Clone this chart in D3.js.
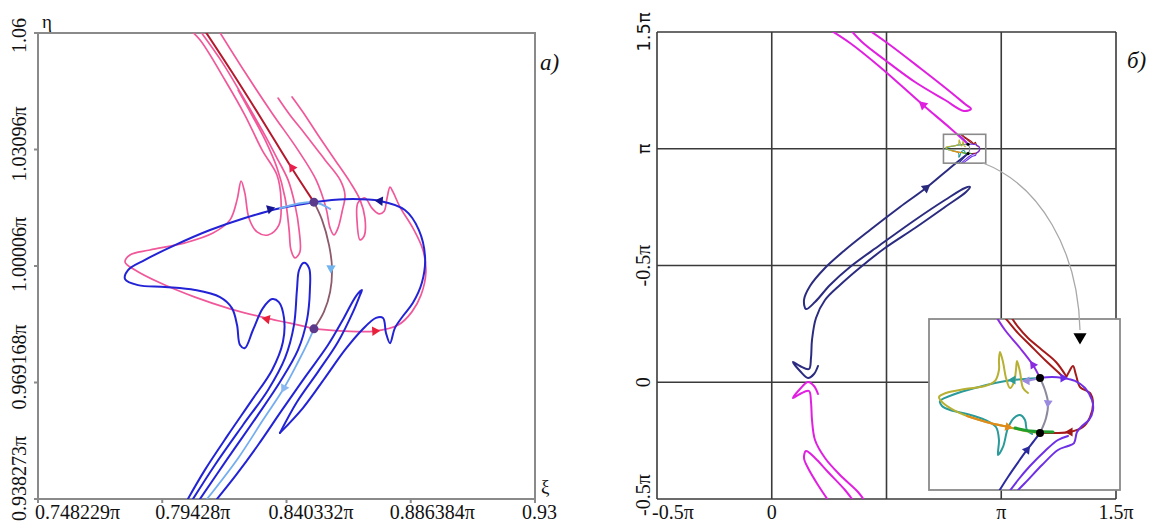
<!DOCTYPE html>
<html><head><meta charset="utf-8">
<script src="https://cdn.jsdelivr.net/npm/d3@7"></script>
<style>
body{margin:0;background:#fff}
svg{display:block}
text{font-family:"Liberation Serif","Times New Roman",serif;fill:#111}
</style>
</head><body>
<svg id="c" width="1149" height="526"></svg>
<script>
// ---------------- DATA (all in units of π) ----------------
// Panel a) axes
const leftXTicks = [0.748229, 0.79428, 0.840332, 0.886384, 0.932433];
const leftXTickLabels = ["0.748229π", "0.79428π", "0.840332π", "0.886384π", "0.93"];
const leftYTicks = [0.938273, 0.969168, 1.00006, 1.03096, 1.06186];
const leftYTickLabels = ["0.938273π", "0.969168π", "1.00006π", "1.03096π", "1.06"];

// Panel a) curves  [ξ/π, η/π]
const leftBlue1 = [[0.8038,0.9383],[0.8101,0.9460],[0.8186,0.9552],[0.8275,0.9645],[0.8350,0.9725],[0.8390,0.9799],[0.8394,0.9863],[0.8375,0.9905],[0.8350,0.9913],[0.8316,0.9889],[0.8279,0.9831],[0.8249,0.9783],[0.8231,0.9791],[0.8220,0.9844],[0.8201,0.9889],[0.8157,0.9918],[0.8064,0.9937],[0.7953,0.9945],[0.7853,0.9950],[0.7805,0.9966],[0.7816,0.9990],[0.7879,1.0017],[0.7990,1.0056],[0.8120,1.0096],[0.8249,1.0128],[0.8379,1.0154],[0.8505,1.0170]];
const leftBlue2 = [[0.8505,1.0170],[0.8620,1.0178],[0.8750,1.0173],[0.8842,1.0149],[0.8894,1.0096],[0.8917,1.0022],[0.8905,0.9956],[0.8872,0.9903],[0.8835,0.9868],[0.8805,0.9836],[0.8787,0.9796],[0.8772,0.9823],[0.8761,0.9863],[0.8735,0.9863],[0.8683,0.9831],[0.8620,0.9778],[0.8546,0.9704],[0.8464,0.9624],[0.8379,0.9558]];
const leftBlue3 = [[0.8379,0.9558],[0.8442,0.9640],[0.8520,0.9720],[0.8594,0.9799],[0.8650,0.9879],[0.8676,0.9924],[0.8683,0.9937],[0.8661,0.9921],[0.8616,0.9863],[0.8557,0.9791],[0.8472,0.9706],[0.8387,0.9619],[0.8298,0.9526],[0.8216,0.9446],[0.8146,0.9383]];
const leftBlue4 = [[0.8057,0.9383],[0.8138,0.9473],[0.8242,0.9579],[0.8335,0.9672],[0.8398,0.9757],[0.8431,0.9844],[0.8442,0.9937],[0.8450,0.9990],[0.8468,1.0009],[0.8487,0.9995],[0.8490,0.9937],[0.8479,0.9857],[0.8446,0.9778],[0.8379,0.9693],[0.8290,0.9598],[0.8186,0.9491],[0.8083,0.9383]];
const leftLightBlue = [[0.8505,0.9834],[0.8483,0.9799],[0.8446,0.9746],[0.8394,0.9677],[0.8316,0.9592],[0.8224,0.9491],[0.8109,0.9383]];
const leftLightBlueTop = [[0.8379,1.0154],[0.8505,1.0170],[0.8565,1.0152]];
const leftPink1 = [[0.8505,0.9834],[0.8416,0.9849],[0.8324,0.9863],[0.8194,0.9887],[0.8064,0.9918],[0.7934,0.9956],[0.7842,0.9990],[0.7805,1.0011],[0.7823,1.0030],[0.7897,1.0043],[0.8027,1.0062],[0.8131,1.0088],[0.8194,1.0123],[0.8220,1.0176],[0.8235,1.0226],[0.8249,1.0194],[0.8264,1.0128],[0.8294,1.0091],[0.8335,1.0083],[0.8375,1.0109],[0.8383,1.0176],[0.8368,1.0242],[0.8313,1.0308],[0.8249,1.0401],[0.8175,1.0494],[0.8083,1.0600],[0.8038,1.0632]];
const leftPink2 = [[0.8224,1.0467],[0.8275,1.0401],[0.8324,1.0335],[0.8368,1.0261],[0.8398,1.0181],[0.8413,1.0096],[0.8420,1.0043],[0.8435,1.0022],[0.8453,1.0038],[0.8450,1.0096],[0.8435,1.0162],[0.8409,1.0229],[0.8368,1.0287],[0.8313,1.0361],[0.8242,1.0449],[0.8164,1.0542],[0.8075,1.0632]];
const leftPink3 = [[0.8146,1.0632],[0.8249,1.0515],[0.8350,1.0406],[0.8446,1.0308],[0.8513,1.0229],[0.8550,1.0154],[0.8565,1.0101],[0.8579,1.0083],[0.8594,1.0101],[0.8609,1.0144],[0.8620,1.0189],[0.8602,1.0229],[0.8546,1.0282],[0.8472,1.0351],[0.8416,1.0401],[0.8372,1.0446]];
const leftPinkRight = [[0.8505,0.9834],[0.8620,0.9828],[0.8731,0.9828],[0.8817,0.9844],[0.8868,0.9879],[0.8902,0.9924],[0.8920,0.9985],[0.8909,1.0043],[0.8872,1.0101],[0.8824,1.0157],[0.8798,1.0197],[0.8787,1.0210],[0.8776,1.0181],[0.8765,1.0146],[0.8746,1.0139],[0.8720,1.0154],[0.8694,1.0181],[0.8668,1.0168],[0.8665,1.0117],[0.8676,1.0070],[0.8691,1.0080],[0.8694,1.0128],[0.8676,1.0176],[0.8639,1.0223],[0.8583,1.0282],[0.8520,1.0348],[0.8464,1.0409],[0.8424,1.0449]];
const leftRed = [[0.8505,1.0170],[0.8416,1.0268],[0.8313,1.0388],[0.8201,1.0515],[0.8094,1.0632]];
const leftBrown = [[0.8505,1.0170],[0.8535,1.0123],[0.8561,1.0056],[0.8572,0.9995],[0.8565,0.9932],[0.8542,0.9879],[0.8505,0.9834]];
const leftSaddles = [[0.8505,1.0170],[0.8505,0.9834]];
// arrows: [ξ, η, direction°, colour]
const leftArrows = [[0.8342,1.0152,-16,"#15158f"],[0.8750,1.0173,185,"#15158f"],[0.8424,1.0261,237,"#e8204e"],[0.8331,0.9860,191,"#e8203a"],[0.8731,0.9828,-3,"#e8203a"],[0.8568,0.9995,92,"#70b4f0"],[0.8394,0.9677,118,"#8ab8f0"]];

// Panel б) axes
const rightXTicks = [-0.5, 0, 0.5, 1, 1.5];
const rightXTickLabels = ["-0.5π", "0", "", "π", "1.5π"];
const rightYTicks = [-0.5, 0, 0.5, 1, 1.5];
const rightYTickLabels = ["-0.5π", "0", "-0.5π", "π", "1.5π"];

// Panel б) curves
const rightMagenta1 = [[0.2407,1.5171],[0.3410,1.4529],[0.4717,1.3501],[0.6590,1.1874],[0.7767,1.0889],[0.8553,1.0192]];
const rightMagentaTongue = [[0.4107,1.5171],[0.5152,1.4443],[0.6460,1.3458],[0.7680,1.2516],[0.8420,1.1917],[0.8682,1.1703],[0.8377,1.1617],[0.7549,1.2088],[0.6242,1.2859],[0.4935,1.3801],[0.3932,1.4572],[0.3366,1.5171]];
const rightNavy = [[0.8553,0.9795],[0.7767,0.9176],[0.6721,0.8319],[0.5588,0.7505],[0.4281,0.6520],[0.3192,0.5664],[0.2320,0.4893],[0.1667,0.4122],[0.1405,0.3522],[0.1492,0.3137],[0.1885,0.3437],[0.2538,0.4165],[0.3410,0.4936],[0.4717,0.5878],[0.6242,0.6949],[0.7549,0.7805],[0.8420,0.8319],[0.8638,0.8362],[0.8464,0.8148],[0.7549,0.7505],[0.6242,0.6606],[0.4935,0.5749],[0.3932,0.4979],[0.2974,0.4165],[0.2320,0.3522],[0.1928,0.2752],[0.1754,0.1810],[0.1710,0.1039],[0.1623,0.0568],[0.1231,0.0696],[0.0926,0.0867],[0.1231,0.0482],[0.1580,0.0182],[0.1841,0.0353],[0.2015,0.0696]];
const rightMagentaLow = [[0.2015,-0.0503],[0.1841,-0.0161],[0.1580,0.0011],[0.1231,-0.0289],[0.0926,-0.0675],[0.1231,-0.0503],[0.1623,-0.0375],[0.1710,-0.0846],[0.1754,-0.1617],[0.1885,-0.2473],[0.2320,-0.3244],[0.2974,-0.3972],[0.3758,-0.4700],[0.4107,-0.5171]];
const rightMagentaLoop = [[0.2538,-0.5171],[0.2015,-0.4400],[0.1580,-0.3672],[0.1405,-0.3244],[0.1492,-0.2944],[0.1885,-0.3244],[0.2451,-0.3844],[0.3192,-0.4615],[0.3627,-0.5171]];
const rightArrows = [[0.6590,1.1874,221,"#e020e0"],[0.6721,0.8319,-38,"#2b2b7e"]];

// Zoomed neighbourhood of (π, π): same window as panel a)
const zoomXDomain = [0.748229, 0.932433];
const zoomYDomain = [0.938273, 1.06186];
const insetRed1 = [[0.8553,0.9795],[0.8697,0.9795],[0.8842,0.9802],[0.8967,0.9838],[0.9035,0.9910],[0.9064,1.0012],[0.9035,1.0084],[0.8939,1.0127],[0.8900,1.0214],[0.8871,1.0279],[0.8832,1.0236],[0.8794,1.0192],[0.8726,1.0236],[0.8601,1.0322],[0.8456,1.0431],[0.8341,1.0517],[0.8235,1.0611],[0.8148,1.0684]];
const insetRed2 = [[0.8804,1.0207],[0.8707,1.0308],[0.8572,1.0395],[0.8437,1.0481],[0.8341,1.0561],[0.8244,1.0669]];
const insetPurple1 = [[0.8090,1.0684],[0.8215,1.0539],[0.8360,1.0409],[0.8485,1.0286],[0.8553,1.0192]];
const insetPurple2 = [[0.8553,1.0192],[0.8669,1.0199],[0.8775,1.0192],[0.8890,1.0171],[0.8987,1.0120],[0.9054,1.0033],[0.9064,0.9961],[0.9025,0.9889],[0.8958,0.9845],[0.8910,0.9802],[0.8881,0.9722],[0.8823,0.9701],[0.8726,0.9672],[0.8572,0.9563],[0.8408,0.9433],[0.8283,0.9339]];
const insetPurple3 = [[0.8823,0.9773],[0.8726,0.9744],[0.8601,0.9665],[0.8456,0.9556],[0.8341,0.9455],[0.8225,0.9339]];
const insetNavy = [[0.8128,0.9339],[0.8244,0.9477],[0.8350,0.9592],[0.8427,0.9672],[0.8495,0.9737],[0.8553,0.9795]];
const insetGray = [[0.8553,1.0192],[0.8601,1.0105],[0.8630,1.0012],[0.8611,0.9903],[0.8553,0.9795]];
const insetTeal = [[0.8553,1.0192],[0.8408,1.0185],[0.8292,1.0178],[0.8119,1.0156],[0.7926,1.0120],[0.7733,1.0077],[0.7637,1.0048],[0.7588,1.0026],[0.7608,0.9990],[0.7685,0.9961],[0.7849,0.9932],[0.8022,0.9889],[0.8128,0.9838],[0.8157,0.9744],[0.8148,0.9636],[0.8196,0.9694],[0.8244,0.9831],[0.8302,0.9903],[0.8360,0.9925],[0.8408,0.9889],[0.8427,0.9816],[0.8476,0.9788]];
const insetOlive = [[0.8553,0.9795],[0.8408,0.9809],[0.8244,0.9838],[0.8071,0.9867],[0.7878,0.9910],[0.7704,0.9968],[0.7608,1.0019],[0.7579,1.0055],[0.7646,1.0084],[0.7829,1.0113],[0.8022,1.0134],[0.8119,1.0171],[0.8157,1.0250],[0.8157,1.0322],[0.8167,1.0380],[0.8196,1.0308],[0.8225,1.0192],[0.8263,1.0120],[0.8302,1.0163],[0.8321,1.0250],[0.8331,1.0315],[0.8360,1.0236],[0.8389,1.0120],[0.8437,1.0084]];
const insetOrange = [[0.7849,0.9918],[0.8071,0.9867],[0.8263,0.9838]];
const insetGreen = [[0.8312,0.9831],[0.8456,0.9809],[0.8678,0.9802]];
const insetLavender = [[0.8553,1.0192],[0.8427,1.0171]];
const insetSaddles = [[0.8553,1.0192],[0.8553,0.9795]];
const insetArrows = [[0.8485,1.0286,236,"#8a2be2"],[0.8775,1.0192,0,"#6a2ae8"],[0.8842,0.9802,180,"#a01818"],[0.8427,0.9672,-53,"#2b2b9e"],[0.8292,1.0178,180,"#2a9a9a"],[0.8244,0.9838,12,"#e08a1a"],[0.8630,1.0012,95,"#9a8ae0"],[0.8427,1.0171,178,"#9a8ae0"]];
// connector (cubic) from the small frame to the zoomed frame, panel б) units
const connector = [[0.9205,0.9390],[1.1688,0.8448],[1.3344,0.5664],[1.3431,0.2238]];
const connectorTip = [1.3431,0.1638];

// ---------------- SCALES ----------------
const xL = d3.scaleLinear().domain([0.748229, 0.932433]).range([38, 535]);
const yL = d3.scaleLinear().domain([0.938273, 1.06186]).range([499, 33]);
const xR = d3.scaleLinear().domain([-0.5, 1.5]).range([657, 1116]);
const yR = d3.scaleLinear().domain([-0.5, 1.5]).range([499, 32]);
const xI = d3.scaleLinear().domain(zoomXDomain).range([929, 1120]);
const yI = d3.scaleLinear().domain(zoomYDomain).range([490, 319]);

const svg = d3.select("#c");
const defs = svg.append("defs");
function clipRect(id, xs, ys) {
  const [x0, x1] = xs.range(), [y0, y1] = ys.range();
  defs.append("clipPath").attr("id", id).append("rect")
    .attr("x", Math.min(x0, x1)).attr("y", Math.min(y0, y1))
    .attr("width", Math.abs(x1 - x0)).attr("height", Math.abs(y1 - y0));
}
clipRect("clipL", xL, yL);
clipRect("clipR", xR, yR);
clipRect("clipI", xI, yI);
defs.append("clipPath").attr("id", "clipS").append("rect")
  .attr("x", xR(zoomXDomain[0])).attr("y", yR(zoomYDomain[1]))
  .attr("width", xR(zoomXDomain[1]) - xR(zoomXDomain[0]))
  .attr("height", yR(zoomYDomain[0]) - yR(zoomYDomain[1]));

const smooth = d3.curveCatmullRom.alpha(0.5);
function curve(g, pts, xs, ys, color, w) {
  g.append("path").datum(pts)
    .attr("d", d3.line().x(d => xs(d[0])).y(d => ys(d[1])).curve(smooth))
    .attr("fill", "none").attr("stroke", color).attr("stroke-width", w)
    .attr("stroke-linejoin", "round").attr("stroke-linecap", "round");
}
function arrows(g, arr, xs, ys, size) {
  g.selectAll(null).data(arr).join("path")
    .attr("d", d3.symbol(d3.symbolTriangle, size)())
    .attr("transform", d => `translate(${xs(d[0])},${ys(d[1])}) rotate(${d[2] + 90})`)
    .attr("fill", d => d[3]);
}
function dots(g, arr, xs, ys, r, color) {
  g.selectAll(null).data(arr).join("circle")
    .attr("cx", d => xs(d[0])).attr("cy", d => ys(d[1])).attr("r", r).attr("fill", color);
}

// ---------------- PANEL a) ----------------
const gL = svg.append("g");
const frameCol = "#8a8a8a";
gL.append("rect").attr("x", xL(leftXTicks[0])).attr("y", yL(leftYTicks[4]))
  .attr("width", xL(leftXTicks[4]) - xL(leftXTicks[0])).attr("height", yL(leftYTicks[0]) - yL(leftYTicks[4]))
  .attr("fill", "none").attr("stroke", frameCol).attr("stroke-width", 2);
gL.selectAll(null).data(leftXTicks).join("line")
  .attr("x1", d => xL(d)).attr("x2", d => xL(d)).attr("y1", yL.range()[0]).attr("y2", yL.range()[0] + 4)
  .attr("stroke", frameCol).attr("stroke-width", 2);
gL.selectAll(null).data(leftYTicks).join("line")
  .attr("y1", d => yL(d)).attr("y2", d => yL(d)).attr("x1", xL.range()[0]).attr("x2", xL.range()[0] - 4)
  .attr("stroke", frameCol).attr("stroke-width", 2);

const leftXShift = [-3, -7, -18, -21, -13];
gL.selectAll(null).data(leftXTicks).join("text")
  .attr("x", (d, i) => xL(d) + leftXShift[i]).attr("y", 519)
  .attr("font-size", 20).text((d, i) => leftXTickLabels[i]);
const leftYShift = [22, 27, 26, 32, 20];
gL.selectAll(null).data(leftYTicks).join("text")
  .attr("transform", (d, i) => `translate(26,${yL(d) + leftYShift[i]}) rotate(-90)`)
  .attr("font-size", 20).text((d, i) => leftYTickLabels[i]);
gL.append("text").attr("x", 42).attr("y", 28).attr("font-size", 19).text("η");
gL.append("text").attr("x", 541).attr("y", 493).attr("font-size", 19).text("ξ");
gL.append("text").attr("x", 540).attr("y", 70).attr("font-size", 23).attr("font-style", "italic").text("a)");

const cL = gL.append("g").attr("clip-path", "url(#clipL)");
const PINK = "#f0589a", BLUE = "#2323d6", LBLUE = "#74aef0";
[leftPink1, leftPink2, leftPink3, leftPinkRight].forEach(c => curve(cL, c, xL, yL, PINK, 1.7));
[leftBlue1, leftBlue2, leftBlue3, leftBlue4].forEach(c => curve(cL, c, xL, yL, BLUE, 2));
curve(cL, leftLightBlue, xL, yL, LBLUE, 1.8);
curve(cL, leftLightBlueTop, xL, yL, LBLUE, 2);
curve(cL, leftRed, xL, yL, "#b3182c", 2);
curve(cL, leftBrown, xL, yL, "#8c5a6c", 1.8);
arrows(cL, leftArrows, xL, yL, 38);
dots(cL, leftSaddles, xL, yL, 4.5, "#5b3a8c");

// ---------------- PANEL б) ----------------
const gR = svg.append("g");
const gridCol = "#3a3a3a";
gR.selectAll(null).data(rightXTicks).join("line")
  .attr("x1", d => xR(d)).attr("x2", d => xR(d)).attr("y1", yR(-0.5)).attr("y2", yR(1.5))
  .attr("stroke", gridCol).attr("stroke-width", 1.6);
gR.selectAll(null).data(rightYTicks).join("line")
  .attr("y1", d => yR(d)).attr("y2", d => yR(d)).attr("x1", xR(-0.5)).attr("x2", xR(1.5))
  .attr("stroke", gridCol).attr("stroke-width", 1.6);

gR.selectAll(null).data(rightXTicks).join("text")
  .attr("x", (d, i) => i === 0 ? xR(d) - 5 : xR(d)).attr("y", 519)
  .attr("text-anchor", (d, i) => i === 0 ? "start" : "middle")
  .attr("font-size", 20).text((d, i) => rightXTickLabels[i]);
gR.selectAll(null).data(rightYTicks).join("text")
  .attr("transform", (d, i) => `translate(650,${yR(d) - (i === 0 ? 4 : 0)}) rotate(-90)`)
  .attr("text-anchor", "middle")
  .attr("font-size", (d, i) => i >= 3 ? 18 : 20)
  .style("font-family", (d, i) => i >= 3 ? "'DejaVu Sans', sans-serif" : null)
  .text((d, i) => rightYTickLabels[i]);
gR.append("text").attr("x", 1127).attr("y", 68).attr("font-size", 23).attr("font-style", "italic").text("б)");

const cR = gR.append("g").attr("clip-path", "url(#clipR)");
const MAG = "#e01fe0", NAVY = "#2b2b80";
[rightMagenta1, rightMagentaTongue, rightMagentaLow, rightMagentaLoop].forEach(c => curve(cR, c, xR, yR, MAG, 2));
curve(cR, rightNavy, xR, yR, NAVY, 2);
arrows(cR, rightArrows, xR, yR, 40);

// zoomed content (two copies: tiny in place, large in the inset)
const zoomCurves = [
  [insetRed1, "#a51a1a"], [insetRed2, "#a51a1a"], [insetPurple1, "#8a2be2"],
  [insetPurple2, "#6e30e6"], [insetPurple3, "#6e30e6"], [insetNavy, "#2b2b9e"],
  [insetGray, "#8a8a9c"], [insetTeal, "#2a9a9a"], [insetOlive, "#b7b032"],
  [insetOrange, "#e08a1a"], [insetGreen, "#1e9e2e"], [insetLavender, "#9a8ae0"]
];
const cS = gR.append("g").attr("clip-path", "url(#clipS)");
zoomCurves.forEach(([c, col]) => curve(cS, c, xR, yR, col, 1.1));
dots(cS, insetSaddles, xR, yR, 1.6, "#000");
gR.append("rect").attr("x", xR(zoomXDomain[0])).attr("y", yR(zoomYDomain[1]))
  .attr("width", xR(zoomXDomain[1]) - xR(zoomXDomain[0])).attr("height", yR(zoomYDomain[0]) - yR(zoomYDomain[1]))
  .attr("fill", "none").attr("stroke", "#8a8a8a").attr("stroke-width", 1.6);

// inset frame
gR.append("rect").attr("x", xI.range()[0]).attr("y", yI.range()[1])
  .attr("width", xI.range()[1] - xI.range()[0]).attr("height", yI.range()[0] - yI.range()[1])
  .attr("fill", "#fff").attr("stroke", "#8a8a8a").attr("stroke-width", 1.8);
const cI = gR.append("g").attr("clip-path", "url(#clipI)");
zoomCurves.forEach(([c, col]) => curve(cI, c, xI, yI, col, (col === "#1e9e2e") ? 3 : 2));
arrows(cI, insetArrows, xI, yI, 34);
dots(cI, insetSaddles, xI, yI, 4, "#000");

// connector arc + arrow head
const p = connector.map(d => [xR(d[0]), yR(d[1])]);
gR.append("path")
  .attr("d", `M${p[0][0]},${p[0][1]} C${p[1][0]},${p[1][1]} ${p[2][0]},${p[2][1]} ${p[3][0]},${p[3][1]}`)
  .attr("fill", "none").attr("stroke", "#a8a8a8").attr("stroke-width", 1.3);
gR.append("path").attr("d", d3.symbol(d3.symbolTriangle, 75)())
  .attr("transform", `translate(${xR(connectorTip[0])},${(yR(connectorTip[1]) + p[3][1]) / 2}) rotate(180)`)
  .attr("fill", "#000");
</script>
</body></html>
